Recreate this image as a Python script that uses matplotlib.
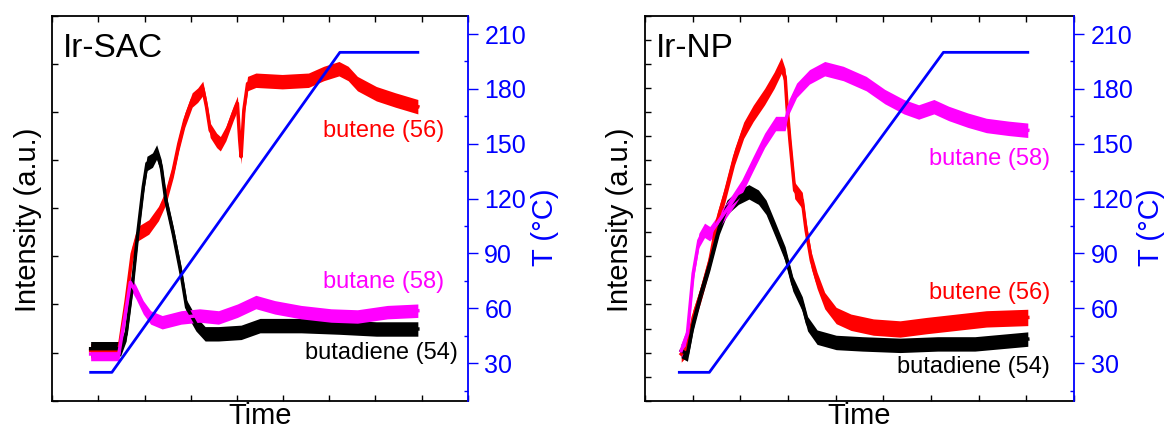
import numpy as np
import matplotlib
matplotlib.use("Agg")
from matplotlib import pyplot as plt
from matplotlib.ticker import MultipleLocator

plt.rcParams['font.family'] = ['Liberation Sans', 'DejaVu Sans']

# ---- Ir-SAC (left) ----
sac_T_t = [0.83, 1.29, 6.23, 7.92]
sac_T = [25, 25, 200, 200]

sac_butene_t = [0.83, 1.44, 1.60, 1.73, 1.85, 2.09, 2.30, 2.46, 2.62, 2.74, 2.87, 3.03, 3.15, 3.26,
                3.34, 3.42, 3.56, 3.64, 3.76, 3.92, 4.01, 4.06, 4.09, 4.15, 4.23, 4.41, 4.98, 5.55,
                5.88, 6.21, 6.41, 6.61, 7.02, 7.43, 7.92]
sac_butene = [1.04, 1.04, 2.08, 3.05, 3.47, 3.61, 3.89, 4.23, 4.79, 5.34, 5.83, 6.25, 6.35, 6.49,
              6.11, 5.62, 5.41, 5.34, 5.55, 5.97, 6.18, 5.41, 5.07, 6.04, 6.59, 6.66, 6.63, 6.66,
              6.80, 6.90, 6.80, 6.59, 6.38, 6.25, 6.11]

sac_butadiene_t = [0.83, 1.48, 1.60, 1.73, 1.85, 1.97, 2.05, 2.17, 2.26, 2.36, 2.46, 2.62, 2.79,
                   2.91, 3.01, 3.11, 3.31, 3.60, 4.09, 4.50, 5.39, 6.21, 7.02, 7.92]
sac_butadiene = [1.08, 1.08, 1.39, 2.36, 3.47, 4.44, 4.93, 5.00, 5.17, 4.86, 4.16, 3.47, 2.64,
                 1.94, 1.77, 1.60, 1.39, 1.39, 1.42, 1.56, 1.56, 1.53, 1.49, 1.49]

sac_butane_t = [0.83, 1.44, 1.56, 1.69, 1.81, 1.97, 2.13, 2.38, 2.79, 3.19, 3.60, 4.01, 4.41,
                4.82, 5.39, 6.04, 6.61, 7.26, 7.92]
sac_butane = [0.97, 0.97, 1.67, 2.46, 2.26, 1.94, 1.73, 1.63, 1.73, 1.77, 1.73, 1.87, 2.05,
              1.94, 1.84, 1.77, 1.75, 1.84, 1.87]

# ---- Ir-NP (right) ----
np_T_t = [0.72, 1.35, 6.26, 8.03]
np_T = [25, 25, 200, 200]

np_butene_t = [0.76, 0.89, 1.01, 1.17, 1.36, 1.52, 1.68, 1.88, 2.07, 2.27, 2.51, 2.71, 2.86, 2.94,
               2.98, 3.04, 3.14, 3.30, 3.38, 3.49, 3.61, 3.77, 4.01, 4.32, 4.79, 5.35, 5.90, 6.53,
               7.16, 8.03]
np_butene = [0.97, 1.11, 1.73, 2.22, 2.91, 3.75, 4.30, 5.07, 5.62, 5.97, 6.32, 6.66, 6.97, 6.73,
             6.11, 5.41, 4.37, 4.16, 3.54, 2.91, 2.50, 2.08, 1.77, 1.63, 1.53, 1.49, 1.56, 1.63,
             1.70, 1.73]

np_butadiene_t = [0.76, 0.89, 1.01, 1.17, 1.36, 1.56, 1.72, 1.96, 2.18, 2.38, 2.54, 2.74, 2.94,
                  3.10, 3.30, 3.41, 3.61, 4.01, 4.56, 5.35, 6.14, 6.92, 8.03]
np_butadiene = [1.04, 0.97, 1.60, 2.22, 2.85, 3.61, 4.02, 4.23, 4.34, 4.23, 4.02, 3.54, 3.05,
                2.43, 2.01, 1.60, 1.32, 1.21, 1.18, 1.15, 1.18, 1.18, 1.28]

np_butane_t = [0.76, 0.89, 1.01, 1.13, 1.25, 1.36, 1.56, 1.80, 2.03, 2.27, 2.51, 2.74, 2.94, 3.02,
               3.18, 3.45, 3.77, 4.16, 4.64, 5.03, 5.43, 5.74, 6.06, 6.37, 6.77, 7.16, 7.63, 8.03]
np_butane = [1.04, 1.39, 2.64, 3.33, 3.54, 3.47, 3.75, 4.09, 4.44, 4.93, 5.41, 5.76, 5.76, 6.11,
             6.45, 6.73, 6.90, 6.80, 6.59, 6.32, 6.11, 6.00, 6.11, 5.97, 5.83, 5.72, 5.66, 5.62]

# band half-width of the noisy signals (intensity units): butene, butadiene, butane
noise = {'sac': (0.15, 0.15, 0.14), 'np': (0.17, 0.15, 0.15)}

panels = [
    dict(name='Ir-SAC', key='sac', rect=[0.0447, 0.0725, 0.3547, 0.891],
         T=(sac_T_t, sac_T),
         series=[(sac_butene_t, sac_butene, 'red'),
                 (sac_butadiene_t, sac_butadiene, 'black'),
                 (sac_butane_t, sac_butane, 'magenta')],
         labels=[('butene (56)', 8.5, 5.6, 'red'),
                 ('butane (58)', 8.5, 2.47, 'magenta'),
                 ('butadiene (54)', 8.78, 0.99, 'black')],
         yminor=1.0, ylab_x=-0.058, tlab_x=1.186),
    dict(name='Ir-NP', key='np', rect=[0.5508, 0.0725, 0.3664, 0.891],
         T=(np_T_t, np_T),
         series=[(np_butene_t, np_butene, 'red'),
                 (np_butadiene_t, np_butadiene, 'black'),
                 (np_butane_t, np_butane, 'magenta')],
         labels=[('butane (58)', 8.5, 5.02, 'magenta'),
                 ('butene (56)', 8.5, 2.24, 'red'),
                 ('butadiene (54)', 8.5, 0.70, 'black')],
         yminor=0.5, ylab_x=-0.058, tlab_x=1.18),
]

fig = plt.figure(figsize=(11.71, 4.32), dpi=100)

for p in panels:
    ax = fig.add_axes(p['rect'])
    for (t, y, c), hw in zip(p['series'], noise[p['key']]):
        t = np.array(t)
        y = np.array(y)
        ax.fill_between(t, y - hw, y + hw, color=c, lw=0)
        ax.plot(t, y, color=c, lw=2.5)
    ax.set_xlim(0, 9)
    ax.set_ylim(0, 8)
    ax.xaxis.set_major_locator(MultipleLocator(1))
    ax.yaxis.set_major_locator(MultipleLocator(p['yminor']))
    ax.tick_params(direction='in', top=True, bottom=True, left=True, right=False,
                   labelleft=False, labelbottom=False, length=4, width=1)
    for s in ['left', 'top', 'bottom']:
        ax.spines[s].set_linewidth(1.3)
    ax.spines['right'].set_visible(False)
    ax.set_xlabel('Time', fontsize=21, labelpad=1)
    ax.text(p['ylab_x'], 0.47, 'Intensity (a.u.)', transform=ax.transAxes, rotation=90,
            ha='center', va='center', fontsize=21)
    ax.text(0.025, 0.915, p['name'], transform=ax.transAxes, ha='left', va='center', fontsize=24)
    for txt, x, y, c in p['labels']:
        ax.text(x, y, txt, color=c, ha='right', va='center', fontsize=17)

    ax2 = ax.twinx()
    ax2.plot(p['T'][0], p['T'][1], color='blue', lw=2)
    ax2.set_ylim(9.5, 220)
    ax2.set_yticks(np.arange(30, 211, 30))
    ax2.yaxis.set_minor_locator(MultipleLocator(15))
    ax2.tick_params(axis='y', which='major', direction='out', length=7, width=1,
                    colors='blue', labelsize=18, pad=5)
    ax2.tick_params(axis='y', which='minor', direction='in', length=3, width=1, colors='blue')
    ax2.spines['right'].set_color('blue')
    ax2.spines['right'].set_linewidth(1.3)
    for s in ['left', 'top', 'bottom']:
        ax2.spines[s].set_visible(False)
    ax.text(p['tlab_x'], 0.45, 'T (°C)', transform=ax.transAxes, rotation=90,
            ha='center', va='center', fontsize=21, color='blue')

fig.savefig('out.png', dpi=100)
